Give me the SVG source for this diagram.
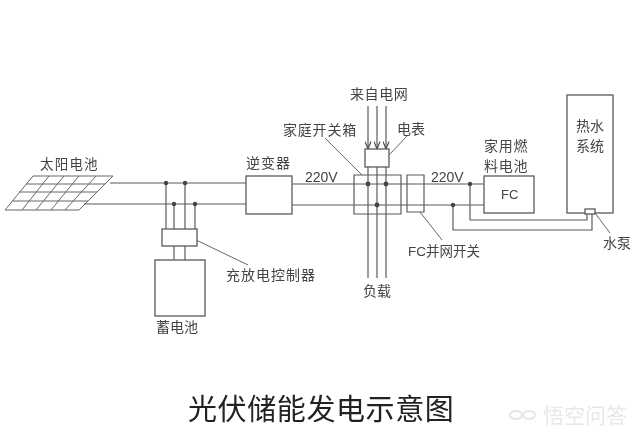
<svg xmlns="http://www.w3.org/2000/svg" width="640" height="437" viewBox="0 0 640 437">
<style>
.w{fill:none;stroke:#5a5a5a;stroke-width:1.2}
.b{fill:#fff;stroke:#5a5a5a;stroke-width:1.3}
.l{fill:none;stroke:#666;stroke-width:1}
.d{fill:#444;stroke:none}
text{font-family:"Noto Sans CJK SC","Liberation Sans",sans-serif;fill:#444;font-size:14px}
.n{font-family:"Liberation Sans","Noto Sans CJK SC",sans-serif}
</style>
<defs>
<filter id="soft" x="-5%" y="-5%" width="110%" height="110%"><feGaussianBlur stdDeviation="0.45"/></filter>
<marker id="a" markerWidth="9" markerHeight="7" refX="8.5" refY="3.5" orient="auto" markerUnits="userSpaceOnUse" viewBox="0 0 9 7"><path d="M1 .5 L8.5 3.5 L1 6.5" fill="none" stroke="#444" stroke-width="1.1"/></marker>
</defs>
<rect width="640" height="437" fill="#fff"/>
<g filter="url(#soft)">
<g id="connectors">
<path class="w" d="M110 183H246M84 204H246M292 184H484M292 205H484"/>
<path class="w" d="M166 183V229M174 204V229M185 183V229M195 204V229M174 246V260M185 246V260"/>
<path class="w" d="M368 106V149" marker-end="url(#a)"/>
<path class="w" d="M377 106V149" marker-end="url(#a)"/>
<path class="w" d="M386 106V149" marker-end="url(#a)"/>
<path class="w" d="M368 167V278M377 167V278M386 167V278"/>
<path class="w" d="M470 184V220H587V213M453 205V230H592V213"/>
<path class="l" d="M192 238L248 265M325 138L362 175M389 155L408 135M420 212L442 240M595 213L610 233"/>
<circle class="d" cx="166" cy="183" r="2.2"/><circle class="d" cx="185" cy="183" r="2.2"/>
<circle class="d" cx="174" cy="204" r="2.2"/><circle class="d" cx="195" cy="204" r="2.2"/>
<circle class="d" cx="368" cy="184" r="2.4"/><circle class="d" cx="386" cy="184" r="2.4"/>
<circle class="d" cx="377" cy="205" r="2.4"/><circle class="d" cx="470" cy="184" r="2.2"/>
<circle class="d" cx="453" cy="205" r="2.2"/>
</g>
<g id="solar">
<path class="l" d="M33 176H113M26 184H105M19 192H97M12 201H88M5 210H79M33 176L5 210M49 176L22 210M64 176L36 210M79 176L51 210M96 176L65 210M113 176L79 210"/>
<text x="40" y="169" style="font-size:13.5px;letter-spacing:1.2px">太阳电池</text>
</g>
<g id="controller"><rect class="b" x="162" y="229" width="35" height="17"/><text x="226" y="280" style="letter-spacing:1px">充放电控制器</text></g>
<g id="battery"><rect class="b" x="155" y="260" width="50" height="56"/><text x="156" y="332">蓄电池</text></g>
<g id="inverter"><rect class="b" x="246" y="176" width="46" height="38"/><text x="246" y="168" style="letter-spacing:1px">逆变器</text></g>
<g id="switchbox"><path class="w" d="M354 175H401V214H354Z"/><text x="283" y="135" style="letter-spacing:.8px">家庭开关箱</text></g>
<g id="meter"><rect class="b" x="365" y="149" width="24" height="18"/><text x="397" y="134">电表</text></g>
<g id="grid"><text x="350" y="99" style="letter-spacing:.6px">来自电网</text></g>
<g id="load"><text x="363" y="296">负载</text></g>
<g id="fcswitch"><path class="w" d="M407 175H424V212H407Z"/><text class="n" x="408" y="256" style="font-size:13.5px">FC并网开关</text></g>
<g id="fc"><rect class="b" x="484" y="176" width="50" height="37"/><text class="n" x="501" y="199" style="font-size:13px">FC</text>
<text x="484" y="151" style="font-size:14px;letter-spacing:.7px">家用燃</text><text x="484" y="171" style="font-size:14px;letter-spacing:.7px">料电池</text></g>
<g id="heater"><rect class="b" x="567" y="95" width="46" height="118"/><text x="576" y="131">热水</text><text x="576" y="151">系统</text></g>
<g id="pump"><rect class="b" x="585" y="209" width="10" height="5"/><text x="603" y="248">水泵</text></g>
<text class="n" x="305" y="182" style="font-size:14px">220V</text>
<text class="n" x="431" y="182" style="font-size:14px">220V</text>
<text id="title" x="188" y="420" style="font-size:29px;fill:#222;letter-spacing:.6px">光伏储能发电示意图</text>
<g id="watermark"><ellipse cx="516" cy="415" rx="6" ry="4" fill="none" stroke="#e6e6e6" stroke-width="2"/><ellipse cx="529" cy="415" rx="6" ry="4" fill="none" stroke="#e6e6e6" stroke-width="2"/>
<text x="543" y="423" style="font-size:21px;fill:#e8e8e8">悟空问答</text></g>
</g>
</svg>
